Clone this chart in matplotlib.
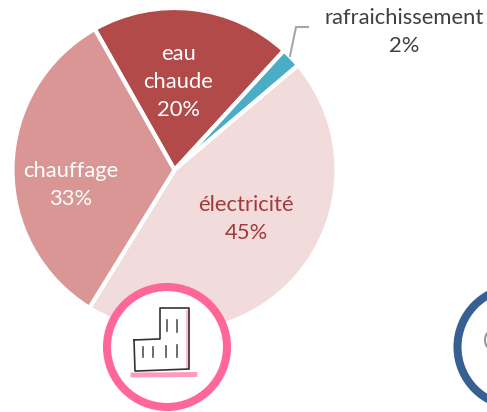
import matplotlib
matplotlib.use('Agg')
import matplotlib.pyplot as plt
from matplotlib.patches import Circle

labels = ['eau\nchaude\n20%', 'rafraichissement\n2%', 'électricité\n45%', 'chauffage\n33%']
values = [20, 2, 45, 33]
colors = ['#B24A4A', '#4BACC6', '#F2DCDB', '#D99694']
text_colors = ['white', '#404040', '#A33A3A', 'white']
label_pos = [(178, 82), (404, 32), (246, 219), (71, 185)]

# building icon, pixel coords of the picture
outline_x = [134, 158, 160, 160, 189, 189, 137, 135, 134]
outline_y = [340, 339, 339, 308, 308, 369, 371, 371, 340]
win_x = [167, 177, 143, 153, 166, 177]
win_y = [(320, 331), (320, 332), (347, 357), (347, 357), (346, 357), (345, 357)]

H = 412
fig = plt.figure(figsize=(4.87, 4.12), dpi=100)
plt.rcParams['font.family'] = ['Lato', 'DejaVu Sans']
ax = fig.add_axes([0, 0, 1, 1])

wedges, _ = ax.pie(values, colors=colors, startangle=119.5, counterclock=False,
                   center=(174.5, H - 170), radius=162,
                   wedgeprops={'edgecolor': 'white', 'linewidth': 3})
ax.set_xlim(0, 487)
ax.set_ylim(0, H)
ax.set_aspect('equal')
ax.axis('off')

# leader line for the small slice
ax.plot([290, 296, 308], [H - 56, H - 27, H - 27], color='#A6A6A6', lw=1.5, solid_joinstyle='miter')

for lab, pos, c in zip(labels, label_pos, text_colors):
    ax.text(pos[0], H - pos[1], lab, color=c, fontsize=15.8, ha='center', va='center', linespacing=1.48)

# round badges under the pie
ax.add_patch(Circle((167, H - 347), 60, fc='white', ec='#FF6699', lw=5.8, zorder=5))
ax.add_patch(Circle((517, H - 347), 59.5, fc='white', ec='#366092', lw=5.8, zorder=5))
ax.add_patch(Circle((497, H - 340), 12, fc='none', ec='#999999', lw=1.5, zorder=6))

ax.plot([133, 195], [H - 375, H - 374.5], color='#FF80AD', lw=3.5, alpha=0.8, zorder=6)
ax.plot([187.5, 187.5], [H - 312, H - 368], color='#FF9FC4', lw=3, alpha=0.7, zorder=6)
ax.plot(outline_x, [H - y for y in outline_y], color='#333333', lw=1.2, zorder=7)
for x, y in zip(win_x, win_y):
    ax.plot([x, x], [H - y[0], H - y[1]], color='#555555', lw=1.2, zorder=7)

fig.savefig('out.png', dpi=100)
